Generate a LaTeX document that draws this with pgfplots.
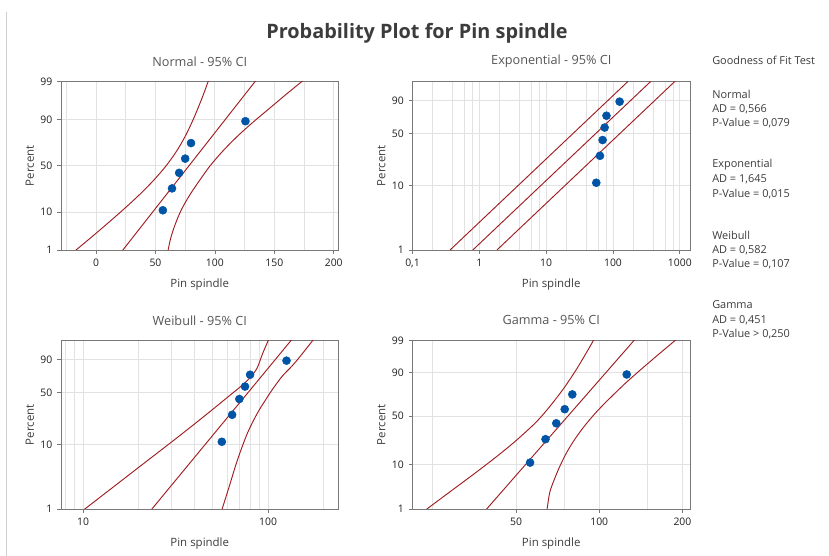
\documentclass[border=0pt]{standalone}
\usepackage{fontspec}
\setmainfont{Open Sans}
\usepackage{pgfplots}
\pgfplotsset{compat=1.18}
\usepackage{pgfplotstable}

\definecolor{dotblue}{RGB}{0,84,166}
\definecolor{cired}{RGB}{160,28,32}
\definecolor{gridgray}{RGB}{226,226,226}
\definecolor{framegray}{RGB}{120,120,120}
\definecolor{labgray}{RGB}{60,60,60}
\definecolor{subgray}{RGB}{85,85,85}
\definecolor{tickcol}{RGB}{30,30,30}

% Pin spindle data; y columns are the probability-scale positions of the
% median ranks (10.9, 26.6, 42.2, 57.8, 73.4, 89.1 %):
% z = normal score, w = ln(-ln(1-p)), g = log-gamma score
\pgfplotstableread{
x     z      w       g
56.2  -1.229 -2.1554 -0.3603
63.9  -0.626 -1.1754 -0.1897
69.9  -0.197 -0.6015 -0.0740
75.0   0.197 -0.1473  0.0285
79.9   0.626  0.2820  0.1363
125.7  1.229  0.7943  0.2815
}\pins

\pgfplotsset{
  pp/.style={
    scale only axis, width=208.125pt, height=126.375pt,
    anchor=south west,
    axis line style={draw=framegray, line width=0.7pt},
    tick style={draw=framegray, line width=0.6pt},
    major tick length=3pt, minor tick length=0pt,
    tick align=outside, xtick pos=bottom, ytick pos=left,
    grid=both,
    major grid style={draw=gridgray, line width=0.7pt},
    minor grid style={draw=gridgray, line width=0.7pt},
    ticklabel style={font=\fontsize{7.8}{9}\selectfont, text=tickcol},
    every axis title/.style={at={(axis description cs:0.5,1.12)}, anchor=center,
      font=\fontsize{9.5}{11}\selectfont, text=subgray},
    xlabel style={at={(axis description cs:0.5,-0.202)}, anchor=center,
      font=\fontsize{8.6}{10}\selectfont, text=labgray},
    ylabel style={at={(axis description cs:-0.112,0.5)}, anchor=center,
      rotate=0, font=\fontsize{8.6}{10}\selectfont, text=labgray},
    xlabel={Pin spindle}, ylabel={Percent},
  },
  ci/.style={cired, line width=0.7pt, no markers},
  pts/.style={only marks, mark=*, mark size=3pt,
    mark options={draw=dotblue, fill=dotblue}},
}

\begin{document}
\begin{tikzpicture}
\path[use as bounding box] (0,0) rectangle (621.75pt,417pt);
\draw[gridgray!80!gray, line width=0.7pt] (4.5pt,0) -- (4.5pt,408pt);

\node[font=\bfseries\fontsize{14.9}{17}\selectfont, text=labgray] at (312.75pt,392.25pt) {Probability Plot for Pin spindle};

% ---------- Normal ----------
\begin{axis}[pp, at={(45.75pt,229.5pt)},
  title={Normal - 95\% CI},
  xmin=-29.5, xmax=204, ymin=-2.326, ymax=2.326,
  xtick={0,50,100,150,200}, xticklabels={0,50,100,150,200},
  minor xtick={-25,25,75,125,175},
  ytick={-2.326,-1.2816,0,1.2816,2.326}, yticklabels={1,10,50,90,99}]
\addplot[ci] coordinates {(20.8,-2.4) (135.6,2.4)};
\addplot[ci, smooth] coordinates {(-19.6,-2.4) (-4.9,-2.0) (9.4,-1.6) (23.3,-1.2) (36.5,-0.8) (48.5,-0.4) (59.0,0) (67.7,0.4) (74.8,0.8) (80.7,1.2) (85.9,1.6) (90.7,2.0) (95.1,2.4)};
\addplot[ci, smooth] coordinates {(60.2,-2.4) (62.8,-2.0) (66.8,-1.6) (72.0,-1.2) (79.0,-0.8) (87.2,-0.4) (96.0,0) (106.5,0.4) (118.5,0.8) (132.0,1.2) (146.5,1.6) (161.0,2.0) (176.0,2.4)};
\addplot[pts] table[x=x, y=z] {\pins};
\end{axis}

% ---------- Exponential ----------
\begin{axis}[pp, at={(309.375pt,229.5pt)},
  title={Exponential - 95\% CI},
  xmode=log, xmin=0.1, xmax=1420, ymin=-4.6002, ymax=1.5272,
  xtick={0.1,1,10,100,1000}, xticklabels={{0,1},1,10,100,1000},
  minor xtick={0.2,0.4,0.6,0.8,2,4,6,8,20,40,60,80,200,400,600,800},
  ytick={-4.6002,-2.2504,-0.3665,0.8340}, yticklabels={1,10,50,90}]
\addplot[ci] coordinates {(0.365,-4.6002) (167.2,1.5272)};
\addplot[ci] coordinates {(0.799,-4.6002) (366.1,1.5272)};
\addplot[ci] coordinates {(1.835,-4.6002) (840.9,1.5272)};
\addplot[pts] table[x=x, y=w] {\pins};
\end{axis}

% ---------- Weibull ----------
\begin{axis}[pp, at={(45.75pt,35.25pt)},
  title={Weibull - 95\% CI},
  xmode=log, xmin=7.6, xmax=240, ymin=-4.6002, ymax=1.5272,
  xtick={10,100}, xticklabels={10,100},
  minor xtick={8,9,20,30,40,50,60,70,80,90,200},
  ytick={-4.6002,-2.2504,-0.3665,0.8340}, yticklabels={1,10,50,90}]
\addplot[ci] coordinates {(22.9,-4.7) (135.7,1.6)};
\addplot[ci, smooth] coordinates {(10.0,-4.65) (12.59,-4.13) (15.85,-3.61) (19.95,-3.09) (25.12,-2.57) (31.62,-2.05) (39.81,-1.52) (50.12,-0.98) (63.10,-0.43) (72.44,-0.10) (79.43,0.16) (87.10,0.52) (93.33,1.05) (100.0,1.52) (102.3,1.70)};
\addplot[ci, smooth] coordinates {(56.1,-4.65) (61.4,-3.818) (68.1,-2.839) (77.1,-1.860) (87.3,-1.125) (96.8,-0.636) (105.1,-0.269) (118.9,0.221) (134.6,0.60) (149.2,0.955) (176.0,1.568)};
\addplot[pts] table[x=x, y=w] {\pins};
\end{axis}

% ---------- Gamma ----------
\begin{axis}[pp, at={(309.375pt,35.25pt)},
  title={Gamma - 95\% CI},
  xmode=log, xmin=21.1, xmax=213, ymin=-0.6981, ymax=0.5289,
  xtick={50,100,200}, xticklabels={50,100,200},
  minor xtick={25,75,150},
  ytick={-0.6981,-0.3757,-0.0223,0.2938,0.5289}, yticklabels={1,10,50,90,99}]
\addplot[ci] coordinates {(38.3,-0.72) (136.4,0.55)};
\addplot[ci, smooth] coordinates {(23.0,-0.72) (28.6,-0.578) (35.8,-0.432) (42.3,-0.320) (50.0,-0.200) (59.2,-0.064) (66.2,0.048) (74.0,0.174) (82.7,0.319) (92.5,0.484) (96.4,0.549)};
\addplot[ci, smooth] coordinates {(64.57,-0.72) (66.15,-0.58) (68.87,-0.48) (72.28,-0.38) (76.56,-0.28) (82.22,-0.18) (89.54,-0.08) (98.86,0.02) (110.7,0.12) (124.7,0.22) (141.9,0.32) (162.2,0.42) (188.4,0.53) (193.6,0.55)};
\addplot[pts] table[x=x, y=g] {\pins};
\end{axis}

% ---------- Goodness of fit panel ----------
\begin{scope}[every node/.style={anchor=west, inner sep=0pt, text=labgray,
    font=\fontsize{8.2}{10}\selectfont}]
\node at (534pt,372pt) {Goodness of Fit Test};
\node at (534pt,346.5pt) {Normal};
\node at (534pt,335.25pt) {AD = 0,566};
\node at (534pt,324.375pt) {P-Value = 0,079};
\node at (534pt,293.625pt) {Exponential};
\node at (534pt,282.375pt) {AD = 1,645};
\node at (534pt,271.5pt) {P-Value = 0,015};
\node at (534pt,240.75pt) {Weibull};
\node at (534pt,229.5pt) {AD = 0,582};
\node at (534pt,218.625pt) {P-Value = 0,107};
\node at (534pt,188.25pt) {Gamma};
\node at (534pt,177pt) {AD = 0,451};
\node at (534pt,166.125pt) {P-Value > 0,250};
\end{scope}
\end{tikzpicture}
\end{document}
